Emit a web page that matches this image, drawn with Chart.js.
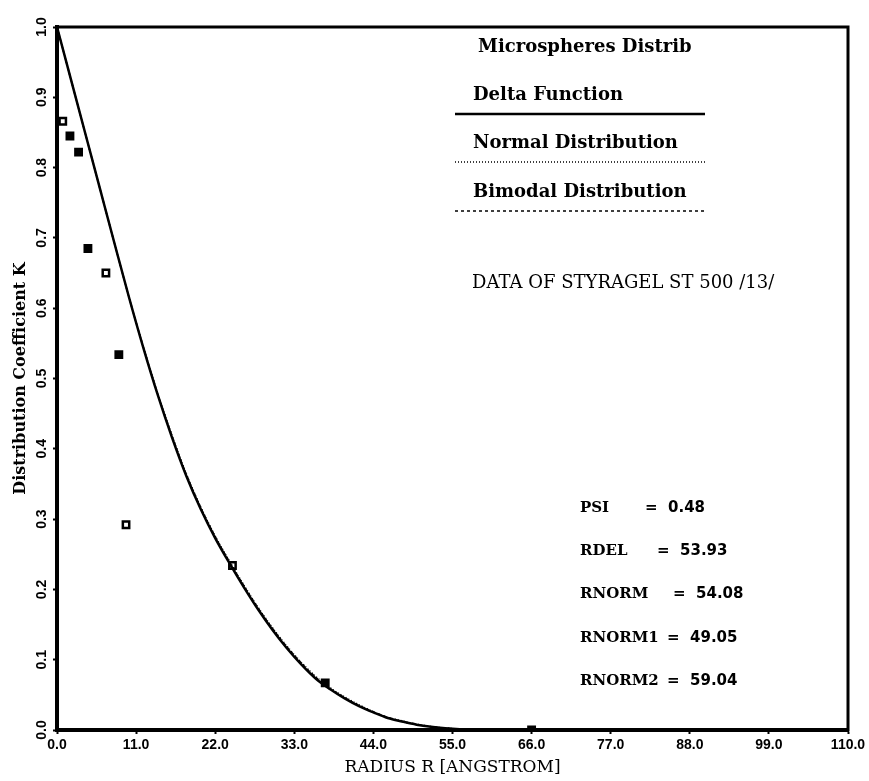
<!DOCTYPE html>
<html>
<head>
<meta charset="utf-8">
<script src="https://cdn.jsdelivr.net/npm/chart.js@4.4.1/dist/chart.umd.min.js"></script>
<style>
  html, body { margin: 0; padding: 0; background: #fff; }
  #wrap { width: 869px; height: 781px; }
</style>
</head>
<body>
<div id="wrap"><canvas id="chart" width="869" height="781"></canvas></div>
<script>
// radius R [Angstrom] along the computed curves
const radius   = [0, 2, 4, 6, 8, 10, 12, 14, 16, 18, 20, 22, 24, 26, 28, 30, 32, 34, 36, 38, 40, 42, 44, 46, 48, 50, 52, 54, 56, 58, 60, 66];
// distribution coefficient K for the three pore size models (they almost overlap)
const kDelta   = [1.0, 0.923, 0.846, 0.769, 0.692, 0.616, 0.544, 0.477, 0.416, 0.361, 0.314, 0.273, 0.237, 0.203, 0.171, 0.142, 0.116, 0.093, 0.073, 0.058, 0.045, 0.034, 0.025, 0.017, 0.012, 0.0076, 0.0046, 0.0026, 0.0012, 0.0004, 0.0, 0.0];
const kNormal  = [1.0, 0.923, 0.846, 0.769, 0.692, 0.616, 0.545, 0.479, 0.419, 0.364, 0.317, 0.276, 0.240, 0.206, 0.174, 0.145, 0.119, 0.096, 0.076, 0.060, 0.047, 0.036, 0.026, 0.018, 0.013, 0.0082, 0.0050, 0.0028, 0.0013, 0.0005, 0.0, 0.0];
const kBimodal = [1.0, 0.923, 0.846, 0.769, 0.692, 0.616, 0.545, 0.478, 0.418, 0.363, 0.316, 0.275, 0.239, 0.205, 0.173, 0.144, 0.118, 0.095, 0.075, 0.059, 0.046, 0.035, 0.026, 0.018, 0.012, 0.0080, 0.0048, 0.0027, 0.0013, 0.0005, 0.0, 0.0];

// measured points, Styragel ST 500
const dataRadius = [0.8, 1.8, 3.0, 4.3, 6.8, 8.6, 9.6, 24.4, 37.3, 66.0];
const dataK      = [0.866, 0.845, 0.822, 0.685, 0.650, 0.534, 0.292, 0.234, 0.067, 0.0];

const xTicks = [0, 11, 22, 33, 44, 55, 66, 77, 88, 99, 110];
const yTicks = [0, 0.1, 0.2, 0.3, 0.4, 0.5, 0.6, 0.7, 0.8, 0.9, 1.0];

const legendTitle = 'Microspheres Distrib';
const legendLabels = ['Delta Function', 'Normal Distribution', 'Bimodal Distribution'];
const sourceNote = 'DATA OF STYRAGEL ST 500 /13/';
const paramNames  = ['PSI', 'RDEL', 'RNORM', 'RNORM1', 'RNORM2'];
const paramValues = ['0.48', '53.93', '54.08', '49.05', '59.04'];

const toXY = (xs, ys) => xs.map((x, i) => ({ x: x, y: ys[i] }));

// frame, rotated y labels, legend and text notes
const decor = {
  id: 'decor',
  afterDraw(chart) {
    const { ctx, chartArea: a, scales: { y } } = chart;
    ctx.save();
    ctx.strokeStyle = '#000';
    ctx.fillStyle = '#000';
    ctx.lineWidth = 3;
    ctx.strokeRect(a.left, a.top, a.right - a.left, a.bottom - a.top);

    // y tick labels are written sideways in the original
    ctx.font = 'bold 14px "Liberation Sans"';
    ctx.textAlign = 'center';
    ctx.textBaseline = 'middle';
    y.ticks.forEach(t => {
      ctx.save();
      ctx.translate(a.left - 15, y.getPixelForValue(t.value));
      ctx.rotate(-Math.PI / 2);
      ctx.fillText(t.value.toFixed(1), 0, 0);
      ctx.restore();
    });

    // legend
    ctx.textAlign = 'left';
    ctx.font = 'bold 18px "DejaVu Serif"';
    ctx.fillText(legendTitle, 478, 47);
    const rows = [95, 143, 192];
    const dashes = [[], [1, 2], [3, 3]];
    const widths = [2.5, 1.5, 1.5];
    legendLabels.forEach((lbl, i) => {
      ctx.fillText(lbl, 473, rows[i]);
      ctx.beginPath();
      ctx.setLineDash(dashes[i]);
      ctx.lineWidth = widths[i];
      ctx.moveTo(455, rows[i] + 19);
      ctx.lineTo(705, rows[i] + 19);
      ctx.stroke();
    });
    ctx.setLineDash([]);

    ctx.font = '18px "DejaVu Serif"';
    ctx.fillText(sourceNote, 472, 283);

    const eqX = [645, 657, 673, 667, 667];
    paramNames.forEach((n, i) => {
      const py = 508 + i * 43.3;
      ctx.font = 'bold 15px "DejaVu Serif"';
      ctx.fillText(n, 580, py);
      ctx.font = 'bold 15px "DejaVu Sans"';
      ctx.fillText('=  ' + paramValues[i], eqX[i], py);
    });
    ctx.restore();
  }
};

new Chart(document.getElementById('chart'), {
  type: 'line',
  data: {
    datasets: [
      {
        label: legendLabels[0],
        data: toXY(radius, kDelta),
        borderColor: '#000',
        borderWidth: 2.5,
        pointRadius: 0,
        cubicInterpolationMode: 'monotone'
      },
      {
        label: legendLabels[1],
        data: toXY(radius, kNormal),
        borderColor: '#000',
        borderWidth: 1.5,
        borderDash: [1, 2],
        pointRadius: 0,
        cubicInterpolationMode: 'monotone'
      },
      {
        label: legendLabels[2],
        data: toXY(radius, kBimodal),
        borderColor: '#000',
        borderWidth: 1.5,
        borderDash: [3, 3],
        pointRadius: 0,
        cubicInterpolationMode: 'monotone'
      },
      {
        label: 'Data',
        data: toXY(dataRadius, dataK),
        showLine: false,
        pointStyle: 'rect',
        pointRadius: 4.5,
        borderWidth: 2.5,
        borderColor: '#000',
        pointBackgroundColor: ['#fff', '#000', '#000', '#000', '#fff', '#000', '#fff', '#fff', '#000', '#000']
      }
    ]
  },
  options: {
    responsive: false,
    animation: false,
    layout: { padding: { top: 27, right: 21, left: 0, bottom: 0 } },
    plugins: { legend: { display: false }, tooltip: { enabled: false } },
    scales: {
      x: {
        type: 'linear',
        min: 0,
        max: 110,
        afterBuildTicks: s => { s.ticks = xTicks.map(v => ({ value: v })); },
        afterFit: s => { s.height = 51; },
        border: { color: '#000', width: 4 },
        grid: { drawOnChartArea: false, tickLength: 4, color: '#000', tickWidth: 2 },
        ticks: {
          color: '#000',
          padding: 3,
          maxRotation: 0,
          font: { family: 'Liberation Sans', weight: 'bold', size: 14 },
          callback: v => v.toFixed(1)
        },
        title: {
          display: true,
          text: 'RADIUS R [ANGSTROM]',
          color: '#000',
          font: { family: 'DejaVu Serif', size: 17 },
          padding: { top: 0, bottom: 3 }
        }
      },
      y: {
        type: 'linear',
        min: 0,
        max: 1,
        afterBuildTicks: s => { s.ticks = yTicks.map(v => ({ value: v })); },
        afterFit: s => { s.width = 57; },
        border: { color: '#000', width: 4 },
        grid: { drawOnChartArea: false, tickLength: 4, color: '#000', tickWidth: 2 },
        ticks: { display: false },
        title: {
          display: true,
          text: 'Distribution Coefficient K',
          color: '#000',
          font: { family: 'DejaVu Serif', weight: 'bold', size: 16 },
          padding: { top: 11, bottom: 0 }
        }
      }
    }
  },
  plugins: [decor]
});
</script>
</body>
</html>
